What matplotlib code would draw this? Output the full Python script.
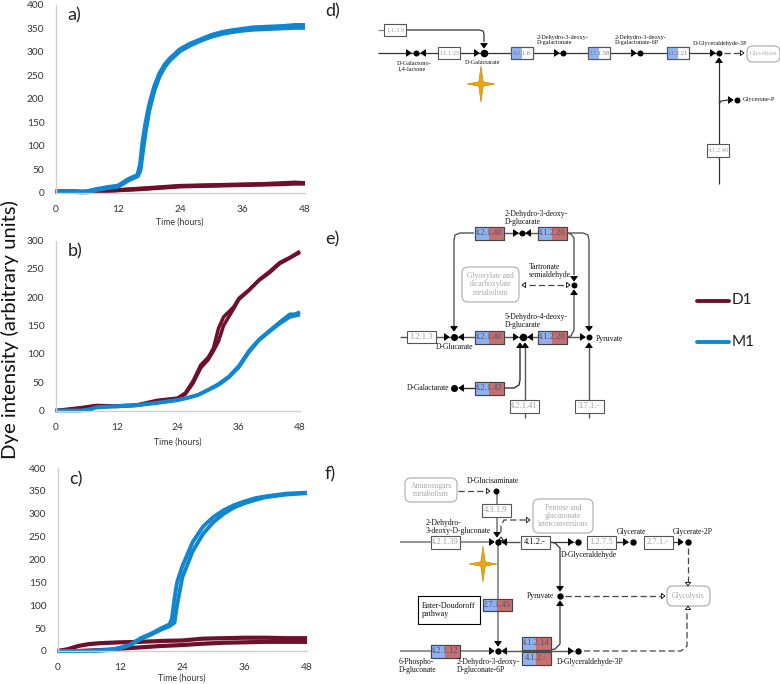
import numpy as np
import matplotlib.pyplot as plt
from matplotlib.patches import FancyBboxPatch, Rectangle, Polygon

W, H = 780, 684
FONT = 'Lato'
SERIF = 'Liberation Serif'
RED = '#6e0f2c'
BLUE = '#0f86cf'
LIGHT_BLUE = '#8fb2ee'
LIGHT_RED = '#c4706f'

x_ticks = [0, 12, 24, 36, 48]

# panel a
a_red_t = [0, 3, 6, 8, 12, 16, 20, 24, 28, 32, 36, 40, 44, 46, 48]
a_red_1 = [3, 3, 2, 4, 6, 9, 12, 15, 16, 17, 18, 19, 21, 22, 21]
a_red_2 = [3, 3, 2, 3, 6, 8, 11, 14, 15, 16, 17, 18, 19, 20, 20]
a_blue_t = [0, 3, 5, 6, 8, 10, 12, 13, 14, 15, 15.8, 16.3, 16.8, 17.3, 18, 19, 20, 21, 22, 24, 26, 28, 30, 32, 34, 36, 38, 40, 42, 44, 46, 48]
a_blue_1 = [3, 3, 2, 3, 8, 12, 15, 22, 29, 34, 38, 60, 110, 145, 185, 225, 253, 272, 285, 305, 317, 326, 335, 341, 345, 348, 351, 352, 353, 354, 356, 356]
a_blue_2 = [3, 3, 2, 3, 7, 11, 14, 20, 27, 32, 36, 48, 90, 130, 175, 218, 248, 268, 282, 302, 314, 324, 332, 338, 342, 345, 347, 348, 349, 350, 351, 351]

# panel b
b_red_t = [0, 2, 5, 8, 12, 16, 18, 20, 24, 25.5, 27, 28.5, 30, 31, 32, 33, 35, 36, 38, 40, 42, 44, 46, 48]
b_red_1 = [0, 2, 5, 9, 8, 10, 14, 18, 22, 31, 52, 80, 94, 110, 145, 165, 183, 198, 213, 231, 245, 261, 270, 281]
b_red_2 = [0, 1, 4, 8, 7, 9, 12, 17, 21, 29, 48, 75, 90, 105, 122, 150, 180, 196, 212, 230, 243, 259, 269, 279]
b_blue_t = [0, 5, 7, 8, 12, 16, 20, 24, 26, 28, 30, 32, 34, 36, 38, 40, 42, 44, 46, 47, 48]
b_blue_1 = [0, 0, 3, 6, 8, 10, 14, 19, 23, 28, 37, 47, 60, 79, 106, 126, 141, 156, 170, 170, 174]
b_blue_2 = [0, 0, 2, 5, 7, 9, 13, 18, 22, 27, 36, 45, 58, 76, 103, 124, 139, 153, 165, 167, 169]

# panel c
c_red_t = [0, 2, 4, 6, 8, 10, 12, 16, 20, 24, 28, 32, 36, 40, 44, 48]
c_red_1 = [0, 4, 11, 15, 17, 18, 19, 20, 22, 23, 27, 28, 29, 29, 28, 28]
c_red_2 = [0, 0, 0, 1, 2, 3, 5, 8, 11, 13, 16, 18, 19, 20, 20, 20]
c_blue_t = [0, 6, 10, 12, 14, 16, 18, 20, 21.5, 22, 22.5, 23, 24, 26, 28, 30, 32, 34, 36, 38, 40, 44, 48]
c_blue_1 = [0, 0, 2, 7, 14, 28, 38, 50, 58, 70, 115, 150, 185, 238, 272, 293, 308, 319, 327, 334, 338, 344, 346]
c_blue_2 = [0, 0, 2, 6, 13, 26, 36, 47, 54, 58, 62, 100, 160, 218, 256, 282, 300, 314, 323, 330, 336, 342, 345]


def panel(left, right, top, bottom, ymax, yticks, label, xlabel_y):
    ax = fig.add_axes([left/W, 1-bottom/H, (right-left)/W, (bottom-top)/H])
    ax.set_xlim(0, 48)
    ax.set_ylim(0, ymax)
    ax.set_xticks(x_ticks)
    ax.set_yticks(yticks)
    ax.tick_params(length=0, labelsize=7.3, labelcolor='#333333')
    ax.tick_params(axis='x', pad=9)
    ax.tick_params(axis='y', pad=8)
    for lab in ax.get_xticklabels() + ax.get_yticklabels():
        lab.set_family(FONT)
    for s in ['top', 'right']:
        ax.spines[s].set_visible(False)
    for s in ['left', 'bottom']:
        ax.spines[s].set_color('#cfcfcf')
        ax.spines[s].set_linewidth(1)
    ax.patch.set_alpha(0)
    fig.text((left+right)/2/W, 1-xlabel_y/H, 'Time (hours)', fontsize=6.3, family=FONT,
             color='#333333', ha='center', va='center')
    fig.text((left+12)/W, 1-(top+11)/H, label, fontsize=13, family=FONT, color='#222222',
             ha='left', va='center')
    return ax


def curves(ax, t, y1, y2, color, lw=2.6):
    ax.plot(t, y1, color=color, lw=lw, clip_on=False, solid_capstyle='butt')
    ax.plot(t, y2, color=color, lw=lw, clip_on=False, solid_capstyle='butt')


fig = plt.figure(figsize=(W/100, H/100), dpi=100)

ax_a = panel(55.5, 305, 4.5, 193, 400, [0, 50, 100, 150, 200, 250, 300, 350, 400], 'a)', 222)
curves(ax_a, a_red_t, a_red_1, a_red_2, RED, 3.0)
curves(ax_a, a_blue_t, a_blue_1, a_blue_2, BLUE, 3.2)

ax_b = panel(55.5, 300, 240.5, 410.5, 300, [0, 50, 100, 150, 200, 250, 300], 'b)', 442)
curves(ax_b, b_red_t, b_red_1, b_red_2, RED, 2.5)
curves(ax_b, b_blue_t, b_blue_1, b_blue_2, BLUE, 2.5)

ax_c = panel(57.5, 307, 468, 651, 400, [0, 50, 100, 150, 200, 250, 300, 350, 400], 'c)', 678)
curves(ax_c, c_red_t, c_red_1, c_red_2, RED, 3.0)
curves(ax_c, c_blue_t, c_blue_1, c_blue_2, BLUE, 2.8)

fig.text(10/W, 1-330/H, 'Dye intensity (arbitrary units)', fontsize=14.6, family=FONT,
         rotation=90, ha='center', va='center', color='#111111')

# pathway diagrams and legend, drawn in image pixels
ov = fig.add_axes([0, 0, 1, 1])
ov.set_xlim(0, W)
ov.set_ylim(H, 0)
ov.axis('off')
ov.patch.set_alpha(0)


def line(xs, ys, color='#333333', lw=0.9, ls='-'):
    ov.plot(xs, ys, color=color, lw=lw, ls=ls, zorder=1, solid_capstyle='butt')


def dash(xs, ys, color='#444444'):
    ov.plot(xs, ys, color=color, lw=0.9, dashes=(5, 2.5), zorder=1)


def arrow(x, y, d, filled=True, size=3.3):
    # triangle with its tip at x, y
    dirs = {'r': (1, 0), 'l': (-1, 0), 'u': (0, -1), 'd': (0, 1)}
    dx, dy = dirs[d]
    pts = [(x, y), (x-dx*size*1.4-dy*size, y-dy*size*1.4-dx*size), (x-dx*size*1.4+dy*size, y-dy*size*1.4+dx*size)]
    ov.add_patch(Polygon(pts, closed=True, fc='black' if filled else 'white', ec='black', lw=0.6, zorder=4))


def node(x, y, r=3.0):
    ov.plot([x], [y], 'o', color='black', ms=r*1.44, mew=0, zorder=5)


def box(x, y, text, blue=False, w=22, h=12, dark=False):
    # blue=True gives the half blue / half red box, 'b' only a blue left part
    ov.add_patch(Rectangle((x-w/2, y-h/2), w, h, fc='white', ec='#555555', lw=0.8, zorder=2))
    col = '#a0a0a0'
    if blue is True:
        ov.add_patch(Rectangle((x-w/2, y-h/2), w/2, h, fc=LIGHT_BLUE, ec='none', zorder=2.1))
        ov.add_patch(Rectangle((x, y-h/2), w/2, h, fc=LIGHT_RED, ec='none', zorder=2.1))
        ov.add_patch(Rectangle((x-w/2, y-h/2), w, h, fc='none', ec='#444444', lw=0.8, zorder=2.2))
        col = '#5a4a70'
    elif blue == 'b':
        ov.add_patch(Rectangle((x-w/2, y-h/2), w*0.5, h, fc=LIGHT_BLUE, ec='none', zorder=2.1))
        ov.add_patch(Rectangle((x-w/2, y-h/2), w, h, fc='none', ec='#555555', lw=0.8, zorder=2.2))
        col = '#777788'
    if dark:
        col = '#111111'
    ov.text(x, y+0.3, text, fontsize=w*0.215, family=SERIF, color=col, ha='center', va='center', zorder=3)


def rbox(x0, y0, x1, y1, text, color='#a8a8a8', size=5.5):
    ov.add_patch(FancyBboxPatch((x0+4, y0+4), x1-x0-8, y1-y0-8, boxstyle='round,pad=4,rounding_size=6',
                                fc='white', ec='#aaaaaa', lw=0.8, zorder=2))
    ov.text((x0+x1)/2, (y0+y1)/2, text, fontsize=size, family=SERIF, color=color, ha='center', va='center',
            linespacing=1.05, zorder=3)


def label(x, y, text, ha='left', size=5.5):
    ov.text(x, y, text, fontsize=size, family=SERIF, color='#111111', ha=ha, va='center',
            linespacing=1.05, zorder=6)


def star(x, y, w=14, h=18):
    s = 2.2
    pts = [(x-w, y), (x-s, y-s), (x, y-h), (x+s, y-s), (x+w, y), (x+s, y+s), (x, y+h), (x-s, y+s)]
    ov.add_patch(Polygon(pts, closed=True, fc='#e8a50f', ec='#c98f10', lw=0.5, zorder=5))


# d)
fig.text(325/W, 1-11/H, 'd)', fontsize=13, family=FONT, color='#222222', ha='left', va='center')
line([378, 405], [30, 30], '#888888')
line([406, 479, 483, 484, 484], [30, 30, 31, 34, 42])
arrow(484, 48, 'd')
line([378, 719], [53, 53])
for x in [416, 563, 640, 719]:
    node(x, 53)
for x, d in [(411, 'r'), (559, 'r'), (636, 'r'), (715, 'r'), (479, 'r')]:
    arrow(x, 53, d)
arrow(421, 53, 'l')
node(484, 53, 3.8)
box(395, 30, '1.1.3.9')
box(449, 53, '3.1.1.25')
box(522, 53, '4.2.1.6', 'b')
box(599, 53, '2.7.1.58', 'b')
box(678, 53, '4.1.2.21', 'b')
dash([724, 741], [53, 53])
arrow(744, 53, 'r', False, 2.6)
rbox(747, 46, 780, 62, 'Glycolysis', size=4.6)
line([719, 719], [184, 62])
arrow(719, 58, 'u')
line([719, 721, 728], [104, 101, 100])
arrow(733, 100, 'r')
node(737, 100)
box(718, 150, '4.1.2.40', h=13)
label(743, 100, 'Glycerone-P', size=4.6)
label(397, 66, 'D-Galactono-\n1,4-lactone', size=4.5)
label(483, 62, 'D-Galactarate', 'center', size=4.5)
label(537, 40, '2-Dehydro-3-deoxy-\nD-galactonate', size=4.5)
label(615, 40, '2-Dehydro-3-deoxy-\nD-galactonate-6P', size=4.5)
label(720, 43, 'D-Glyceraldehyde-3P', 'center', size=4.4)
star(481, 84)

# e)
fig.text(325/W, 1-239/H, 'e)', fontsize=13, family=FONT, color='#222222', ha='left', va='center')
line([474, 460, 455, 454, 454], [233, 233, 235, 240, 326], '#555555', 1.0)
line([566, 583, 588, 589, 589], [233, 233, 235, 240, 326], '#555555', 1.0)
line([566, 571, 574, 574], [233, 234, 238, 275], '#555555', 1.0)
line([574, 574, 571, 566], [294, 330, 336, 337], '#555555', 1.0)
line([475, 566], [233, 233], '#555555', 1.0)
line([400, 585], [337, 337], '#555555', 1.0)
arrow(454, 331, 'd')
arrow(589, 331, 'd')
arrow(574, 281, 'd')
arrow(574, 290, 'u')
node(574, 285)
dash([529, 567], [285, 285])
arrow(522, 285, 'l', False, 2.6)
arrow(570, 285, 'r', False, 2.6)
rbox(462, 267, 519, 302, 'Glyoxylate and\ndicarboxylate\nmetabolism')
for x, d in [(518, 'r'), (526, 'l')]:
    arrow(x, 233, d)
node(522, 233)
for x, d in [(449, 'r'), (459, 'l'), (518, 'r'), (528, 'l'), (585, 'r')]:
    arrow(x, 337, d)
node(454, 337, 3.5)
node(523, 337, 3.8)
node(589, 337)
arrow(589, 343, 'u')
line([589, 589], [345, 418], '#555555', 1.0)
arrow(520, 343, 'u')
arrow(525, 343, 'u')
line([525, 525], [345, 418], '#555555', 1.0)
line([503, 514, 519, 520, 520], [388, 388, 385, 380, 345], '#333333', 1.0)
line([459, 475], [388, 388], '#333333', 1.0)
arrow(459, 388, 'l')
node(454, 388, 3.5)
for x, y, t in [(489, 233, '4.2.1.40'), (552, 233, '4.1.2.20'), (489, 337, '4.2.1.40'), (552, 337, '4.1.2.20'),
                (489, 388, '4.2.1.42')]:
    box(x, y, t, True, 29, 13)
box(421, 337, '1.2.1.3', w=29, h=12)
box(524, 406, '4.2.1.41', w=29, h=13)
box(589, 406, '3.7.1.-', w=29, h=13)
label(505, 218, '2-Dehydro-3-deoxy-\nD-glucarate')
label(529, 271, 'Tartronate\nsemialdehyde')
label(505, 321, '5-Dehydro-4-deoxy-\nD-glucarate')
label(455, 347, 'D-Glucarate', 'center')
label(596, 339, 'Pyruvate')
label(449, 388, 'D-Galactarate', 'right')

# f)
fig.text(325/W, 1-474/H, 'f)', fontsize=13, family=FONT, color='#222222', ha='left', va='center')
line([400, 494], [542, 542], '#777777', 1.1)
line([502, 520], [542, 542], '#555555', 1.0)
line([550, 574], [542, 542])
line([616, 628], [542, 542])
line([587, 628], [542, 542])
line([644, 682], [542, 542])
line([497, 497], [491, 536], '#777777', 1.1)
line([498, 498], [545, 646], '#777777', 1.1)
line([400, 494], [651, 651], '#777777', 1.1)
line([502, 574], [651, 651], '#555555', 1.0)
for x, d in [(494, 'r'), (502, 'l'), (573, 'r'), (628, 'r'), (683, 'r')]:
    arrow(x, 542, d)
for x in [498, 578, 633, 688]:
    node(x, 542, 3.2)
arrow(497, 537, 'd')
arrow(501, 537, 'u', False, 2.4)
dash([501, 501, 504, 526], [532, 526, 520, 520])
arrow(530, 520, 'r', False, 2.6)
rbox(533, 499, 593, 533, 'Pentose and\nglucuronate\ninterconversions')
rbox(405, 478, 457, 502, 'Aminosugars\nmetabolism')
dash([458, 486], [491, 491])
arrow(490, 491, 'r', False, 2.6)
node(496, 491)
box(496, 510, '4.3.1.9', w=29, h=13)
box(445, 542, '4.2.1.39', w=29, h=13)
box(535, 542, '4.1.2.-', w=29, h=13, dark=True)
box(601, 542, '1.2.7.5', w=29, h=13)
box(658, 542, '2.7.1.-', w=29, h=13)
box(497, 605, '2.7.1.45', True, 29, 12)
box(445, 651, '4.2.1.12', True, 29, 13)
box(536, 643, '4.1.2.14', True, 29, 13)
box(536, 658, '4.1.2.-', True, 29, 13)
ov.add_patch(Rectangle((418, 596), 62, 28, fc='white', ec='black', lw=0.8, zorder=2))
label(422, 610, 'Enter-Doudoroff\npathway', size=5.8)
arrow(498, 646, 'd')
arrow(494, 651, 'r')
arrow(502, 651, 'l')
node(498, 651, 3.2)
arrow(573, 651, 'r')
node(578, 651, 3.2)
line([550, 555, 560, 560], [542, 543, 548, 586])
line([550, 555, 560, 560], [650, 649, 644, 605])
arrow(560, 591, 'd')
arrow(560, 601, 'u')
node(560, 596, 3.2)
dash([565, 661], [596, 596])
arrow(665, 596, 'r', False, 2.6)
dash([688, 688], [548, 582])
arrow(688, 586, 'd', False, 2.6)
dash([584, 681, 687, 687], [651, 651, 646, 611])
arrow(688, 606, 'u', False, 2.6)
rbox(667, 586, 710, 606, 'Glycolysis')
label(493, 481, 'D-Glucisaminate', 'center')
label(426, 527, '2-Dehydro-\n3-deoxy-D-gluconate')
label(589, 555, 'D-Glyceraldehyde', 'center')
label(631, 532, 'Glycerate', 'center')
label(693, 532, 'Glycerate-2P', 'center')
label(554, 596, 'Pyruvate', 'right')
label(399, 666, '6-Phospho-\nD-gluconate')
label(457, 666, '2-Dehydro-3-deoxy-\nD-gluconate-6P')
label(590, 662, 'D-Glyceraldehyde-3P', 'center')
star(483, 564)

# legend
ov.plot([697, 729], [300.5, 300.5], color=RED, lw=2.8, solid_capstyle='round')
ov.plot([697, 729], [342, 342], color=BLUE, lw=2.8, solid_capstyle='round')
ov.text(732, 300.5, 'D1', fontsize=11, family=FONT, color='#222222', ha='left', va='center')
ov.text(732, 342, 'M1', fontsize=11, family=FONT, color='#222222', ha='left', va='center')

fig.savefig('out.png', dpi=100)
